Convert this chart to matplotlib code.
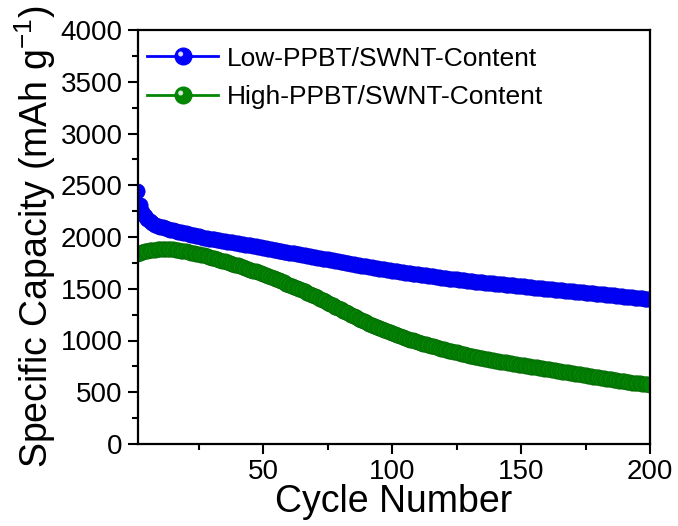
import matplotlib
matplotlib.use("Agg")
import matplotlib.pyplot as plt
from matplotlib.lines import Line2D
from matplotlib.markers import MarkerStyle
from matplotlib.transforms import Affine2D
from matplotlib.legend_handler import HandlerTuple
from matplotlib.ticker import MultipleLocator

plt.rcParams['font.family'] = ['Liberation Sans', 'DejaVu Sans']
plt.rcParams['mathtext.fontset'] = 'custom'
plt.rcParams['mathtext.rm'] = 'Liberation Sans'
plt.rcParams['mathtext.it'] = 'Liberation Sans'
plt.rcParams['mathtext.default'] = 'regular'

cycles = list(range(1, 201))

low_content = [
    2440, 2310, 2240, 2200, 2170, 2150, 2135, 2120, 2110, 2100,
    2092, 2085, 2078, 2071, 2065, 2059, 2053, 2047, 2041, 2035,
    2029, 2023, 2017, 2011, 2005, 2000, 1995, 1990, 1985, 1980,
    1976, 1972, 1968, 1964, 1960, 1956, 1952, 1948, 1944, 1940,
    1936, 1931, 1927, 1922, 1918, 1913, 1909, 1904, 1900, 1895,
    1891, 1886, 1882, 1877, 1873, 1868, 1864, 1859, 1855, 1850,
    1846, 1841, 1837, 1832, 1828, 1823, 1819, 1814, 1810, 1805,
    1801, 1796, 1792, 1787, 1783, 1778, 1774, 1769, 1765, 1760,
    1756, 1751, 1747, 1742, 1738, 1733, 1729, 1724, 1720, 1715,
    1711, 1707, 1703, 1699, 1695, 1691, 1687, 1683, 1679, 1675,
    1671, 1668, 1664, 1661, 1657, 1654, 1650, 1647, 1643, 1640,
    1636, 1633, 1629, 1626, 1622, 1619, 1615, 1612, 1608, 1605,
    1602, 1599, 1596, 1593, 1590, 1587, 1584, 1581, 1578, 1575,
    1572, 1570, 1567, 1565, 1562, 1560, 1557, 1555, 1552, 1550,
    1547, 1545, 1542, 1540, 1537, 1535, 1532, 1530, 1527, 1525,
    1522, 1520, 1517, 1515, 1512, 1510, 1507, 1505, 1502, 1500,
    1497, 1495, 1492, 1490, 1487, 1485, 1482, 1480, 1477, 1475,
    1472, 1470, 1467, 1465, 1462, 1460, 1457, 1455, 1452, 1450,
    1447, 1445, 1442, 1440, 1437, 1435, 1432, 1430, 1427, 1425,
    1422, 1420, 1417, 1415, 1412, 1410, 1407, 1405, 1402, 1400,
]

high_content = [
    1840, 1848, 1855, 1861, 1866, 1870, 1874, 1877, 1880, 1882,
    1884, 1885, 1884, 1882, 1880, 1877, 1873, 1869, 1865, 1860,
    1855, 1850, 1845, 1840, 1835, 1829, 1822, 1815, 1808, 1800,
    1793, 1786, 1779, 1772, 1765, 1757, 1749, 1741, 1733, 1725,
    1717, 1709, 1700, 1692, 1684, 1676, 1668, 1659, 1650, 1641,
    1632, 1622, 1612, 1602, 1592, 1582, 1572, 1561, 1550, 1540,
    1529, 1518, 1507, 1496, 1485, 1474, 1463, 1452, 1440, 1428,
    1416, 1404, 1392, 1380, 1367, 1354, 1341, 1328, 1315, 1302,
    1289, 1276, 1263, 1250, 1237, 1224, 1212, 1200, 1188, 1176,
    1164, 1153, 1142, 1131, 1120, 1110, 1100, 1090, 1080, 1070,
    1061, 1052, 1043, 1034, 1025, 1017, 1009, 1001, 993, 985,
    978, 971, 964, 957, 950, 943, 936, 929, 922, 915,
    909, 903, 897, 891, 885, 879, 873, 867, 861, 855,
    850, 845, 840, 835, 830, 825, 820, 815, 810, 805,
    800, 796, 792, 788, 784, 780, 776, 772, 768, 764,
    760, 756, 752, 748, 744, 740, 736, 732, 728, 724,
    720, 716, 712, 708, 704, 700, 696, 692, 688, 684,
    680, 676, 672, 668, 664, 660, 656, 652, 648, 644,
    640, 636, 632, 628, 624, 620, 616, 612, 608, 604,
    600, 597, 594, 591, 588, 585, 582, 579, 576, 573,
]

series_labels = ["Low-PPBT/SWNT-Content", "High-PPBT/SWNT-Content"]
x_ticks = [50, 100, 150, 200]
y_ticks = [0, 500, 1000, 1500, 2000, 2500, 3000, 3500, 4000]

fig = plt.figure(figsize=(6.78, 5.26), dpi=100)
ax = fig.add_axes([138/678, 82/526, 512/678, 414/526])

blue, blue_edge = '#0000ff', '#0000d8'
green, green_edge = '#048504', '#036803'

ax.plot(cycles, low_content, '-o', color=blue, lw=2, ms=11,
        mfc=blue, mec=blue_edge, mew=0.5)
ax.plot(cycles, high_content, '-o', color=green, lw=2, ms=11,
        mfc=green, mec=green_edge, mew=0.5)

ax.set_xlim(1.4, 200)
ax.set_ylim(0, 4000)
ax.set_xticks(x_ticks)
ax.set_yticks(y_ticks)
ax.xaxis.set_minor_locator(MultipleLocator(25))
ax.yaxis.set_minor_locator(MultipleLocator(250))
ax.tick_params(which='major', direction='out', length=7, width=1.5,
               labelsize=20, pad=4, top=False, right=False)
ax.tick_params(which='minor', direction='out', length=4, width=1.5,
               top=False, right=False)
for s in ax.spines.values():
    s.set_linewidth(1.6)

ax.set_xlabel("Cycle Number", fontsize=27, labelpad=-1)
ax.set_ylabel("Specific Capacity (mAh g$^{-1}$)", fontsize=27, labelpad=2)

shine = MarkerStyle('o', transform=Affine2D().scale(0.3).translate(-0.17, 0.15))
h1 = (Line2D([], [], color=blue, lw=2, marker='o', ms=12, mfc=blue, mec=blue),
      Line2D([], [], ls='none', marker=shine, ms=12, mfc='#d8d8ff', mec='none'))
h2 = (Line2D([], [], color=green, lw=2, marker='o', ms=12, mfc=green, mec=green),
      Line2D([], [], ls='none', marker=shine, ms=12, mfc='#d0e8d0', mec='none'))
ax.legend([h1, h2], series_labels, handler_map={tuple: HandlerTuple(ndivide=1, pad=0)},
          loc='upper left', bbox_to_anchor=(0.018, 0.96), frameon=False,
          fontsize=19, handlelength=2.7, handletextpad=0.3, labelspacing=0.55,
          borderpad=0, borderaxespad=0)

fig.savefig("out.png", dpi=100)
